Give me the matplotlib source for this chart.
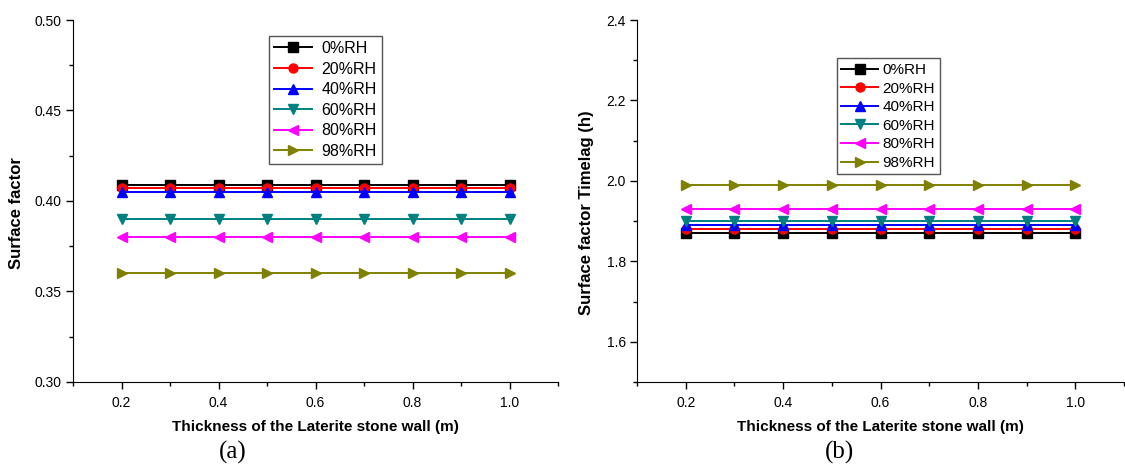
import matplotlib
matplotlib.use("Agg")
import matplotlib.pyplot as plt
from matplotlib.ticker import MultipleLocator, FormatStrFormatter, FixedLocator

# wall thickness (m)
thickness = [0.2, 0.3, 0.4, 0.5, 0.6, 0.7, 0.8, 0.9, 1.0]
labels = ["0%RH", "20%RH", "40%RH", "60%RH", "80%RH", "98%RH"]

# surface factor for each relative humidity
sf_0 = [0.409] * 9
sf_20 = [0.407] * 9
sf_40 = [0.405] * 9
sf_60 = [0.390] * 9
sf_80 = [0.380] * 9
sf_98 = [0.360] * 9

# surface factor time lag (h)
tl_0 = [1.87] * 9
tl_20 = [1.88] * 9
tl_40 = [1.89] * 9
tl_60 = [1.90] * 9
tl_80 = [1.93] * 9
tl_98 = [1.99] * 9

colors = ["#000000", "#ff0000", "#0000ff", "#008080", "#ff00ff", "#808000"]
markers = ["s", "o", "^", "v", "<", ">"]

plt.rcParams["font.family"] = ["Liberation Sans", "DejaVu Sans"]

fig = plt.figure(figsize=(11.25, 4.68), dpi=100)
ax1 = fig.add_axes([73 / 1125, 86 / 468, 485 / 1125, 362 / 468])
ax2 = fig.add_axes([637 / 1125, 86 / 468, 487 / 1125, 362 / 468])


def draw(ax, series):
    for y, c, m, lab in zip(series, colors, markers, labels):
        ax.plot(thickness, y, color=c, marker=m, markersize=6.5, lw=1.4, label=lab)
    ax.set_xlim(0.1, 1.1)
    ax.spines["top"].set_visible(False)
    ax.spines["right"].set_visible(False)
    ax.xaxis.set_major_locator(FixedLocator([0.2, 0.4, 0.6, 0.8, 1.0]))
    ax.xaxis.set_minor_locator(FixedLocator([0.1, 0.3, 0.5, 0.7, 0.9, 1.1]))
    ax.xaxis.set_major_formatter(FormatStrFormatter("%.1f"))
    ax.tick_params(which="major", length=5, width=1, labelsize=10, direction="out", pad=3)
    ax.tick_params(which="minor", length=3, width=1, direction="out")
    ax.tick_params(axis="x", pad=5)
    ax.set_xlabel("Thickness of the Laterite stone wall (m)", fontsize=11,
                  fontweight="bold", labelpad=7)


draw(ax1, [sf_0, sf_20, sf_40, sf_60, sf_80, sf_98])
ax1.set_ylim(0.30, 0.50)
ax1.yaxis.set_major_locator(MultipleLocator(0.05))
ax1.yaxis.set_minor_locator(MultipleLocator(0.025))
ax1.yaxis.set_major_formatter(FormatStrFormatter("%.2f"))
ax1.set_ylabel("Surface factor", fontsize=12, fontweight="bold", labelpad=8)
ax1.yaxis.label.set_y(0.467)
ax1.legend(loc="upper left", bbox_to_anchor=(0.404, 0.955), borderaxespad=0,
           fontsize=11.5, numpoints=1, handlelength=2.4, fancybox=False,
           edgecolor="#555555", framealpha=1, borderpad=0.3, labelspacing=0.35,
           handletextpad=0.6)

draw(ax2, [tl_0, tl_20, tl_40, tl_60, tl_80, tl_98])
ax2.set_ylim(1.5, 2.4)
ax2.yaxis.set_major_locator(FixedLocator([1.6, 1.8, 2.0, 2.2, 2.4]))
ax2.yaxis.set_minor_locator(FixedLocator([1.5, 1.7, 1.9, 2.1, 2.3]))
ax2.yaxis.set_major_formatter(FormatStrFormatter("%.1f"))
ax2.set_ylabel("Surface factor Timelag (h)", fontsize=12, fontweight="bold", labelpad=9)
ax2.yaxis.label.set_y(0.467)
ax2.legend(loc="upper left", bbox_to_anchor=(0.41, 0.894), borderaxespad=0,
           fontsize=11, numpoints=1, handlelength=2.4, fancybox=False,
           edgecolor="#555555", framealpha=1, borderpad=0.3, labelspacing=0.3,
           handletextpad=0.3)

fig.text(233 / 1125, 1 - 452 / 468, "(a)", family="Liberation Serif", fontsize=18,
         ha="center", va="center")
fig.text(840 / 1125, 1 - 452 / 468, "(b)", family="Liberation Serif", fontsize=18,
         ha="center", va="center")

fig.savefig("out.png", dpi=100)
